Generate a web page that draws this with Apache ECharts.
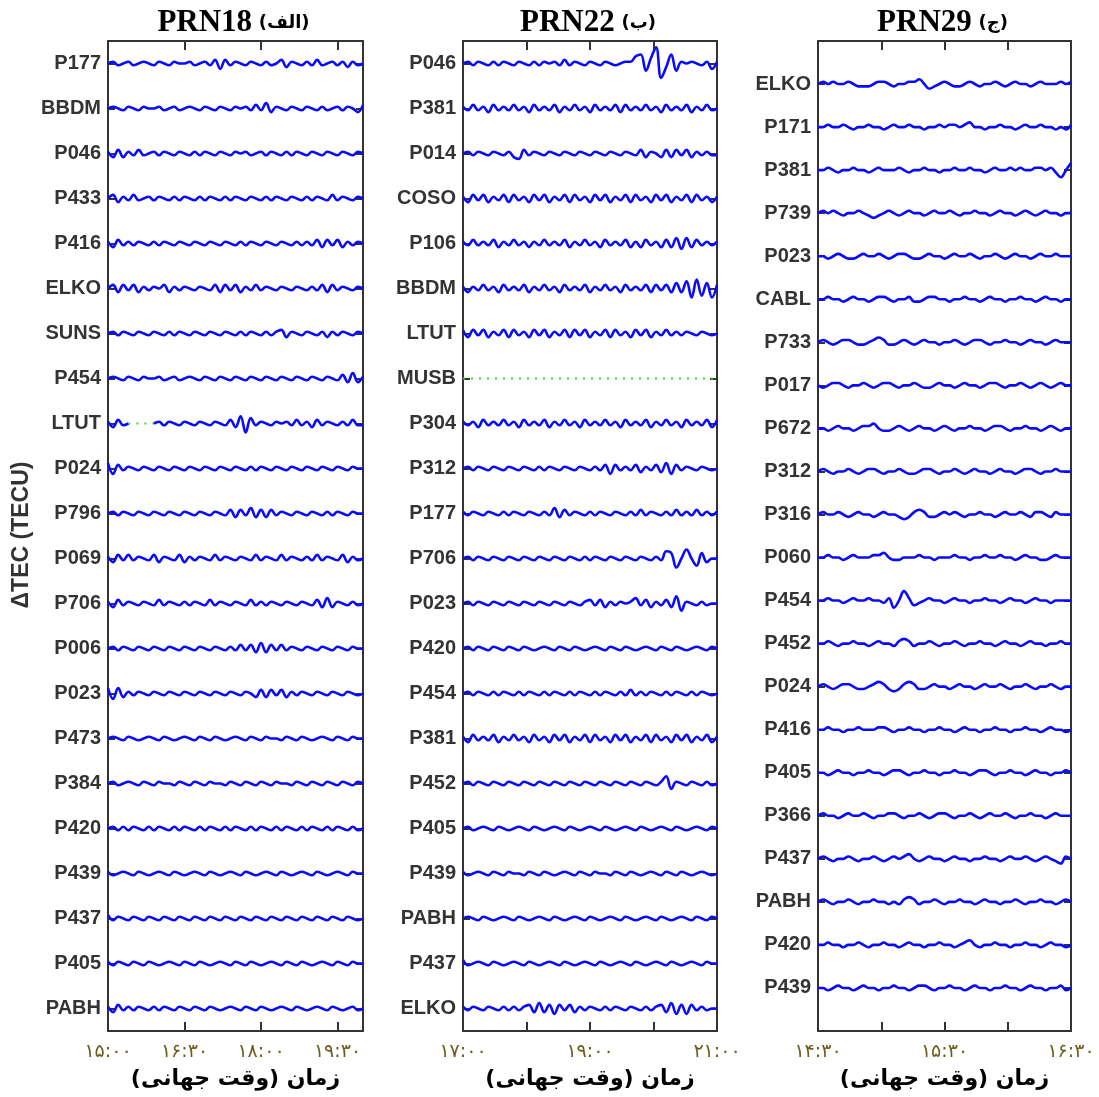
<!DOCTYPE html>
<html>
<head>
<meta charset="utf-8">
<script src="https://cdn.jsdelivr.net/npm/echarts@6/dist/echarts.min.js"></script>
<style>html,body{margin:0;padding:0;background:#fff}#c{width:1099px;height:1097px}</style>
</head>
<body>
<div id="c"></div>
<script>
// ---------- DATA ----------
const P1_TITLE = 'PRN18', P1_TAG = '(الف)';
const P2_TITLE = 'PRN22', P2_TAG = '(ب)';
const P3_TITLE = 'PRN29', P3_TAG = '(ج)';
const X_NAME = 'زمان (وقت جهانی)';
const Y_NAME = 'ΔTEC (TECU)';

const P1_RANGE = [15, 20];
const P2_RANGE = [17, 21];
const P3_RANGE = [14.5, 16.5];

const P1_TICKS = [16.5, 18, 19.5];
const P1_LABEL_AT = [15, 16.5, 18, 19.5];
const P1_LABELS = ['۱۵:۰۰', '۱۶:۳۰', '۱۸:۰۰', '۱۹:۳۰'];
const P2_TICKS = [18, 19, 20];
const P2_LABEL_AT = [17, 19, 21];
const P2_LABELS = ['۱۷:۰۰', '۱۹:۰۰', '۲۱:۰۰'];
const P3_TICKS = [15, 15.5, 16];
const P3_LABEL_AT = [14.5, 15.5, 16.5];
const P3_LABELS = ['۱۴:۳۰', '۱۵:۳۰', '۱۶:۳۰'];

const P1_STATIONS = ['P177','BBDM','P046','P433','P416','ELKO','SUNS','P454','LTUT','P024','P796','P069','P706','P006','P023','P473','P384','P420','P439','P437','P405','PABH'];
const P2_STATIONS = ['P046','P381','P014','COSO','P106','BBDM','LTUT','MUSB','P304','P312','P177','P706','P023','P420','P454','P381','P452','P405','P439','PABH','P437','ELKO'];
const P3_STATIONS = ['ELKO','P171','P381','P739','P023','CABL','P733','P017','P672','P312','P316','P060','P454','P452','P024','P416','P405','P366','P437','PABH','P420','P439'];

// ΔTEC samples (relative units), evenly spaced over each panel's time range
const P1_VALUES = [
 [0,1,-1,0,1,-1,0,1,0,-1,1,0,-1,1,0,0,1,-1,0,1,-1,2,-3,2,-1,1,0,-1,1,0,-1,1,-1,0,2,-2,1,0,-1,1,-1,2,-1,0,1,-1,1,-2,1,-1,0],
 [0,1,0,-1,1,0,-1,1,0,0,1,-1,0,1,-1,0,1,0,-1,1,0,-1,1,0,-1,1,0,1,-1,2,-1,3,-2,1,0,-1,1,0,-1,1,0,-1,1,-1,0,1,-1,1,0,-2,2],
 [1,-2,2,-2,1,-1,2,-1,0,1,-1,1,0,-1,1,0,-1,1,-1,1,0,-1,1,0,-1,1,0,1,-1,0,1,-1,1,0,-1,1,-1,1,0,-1,1,0,-1,1,0,-1,1,0,-1,1,0],
 [0,2,-2,1,-1,2,-1,0,1,-1,1,0,-1,1,-1,1,0,-1,1,-1,1,0,-1,1,-1,1,0,-1,1,0,-1,1,-1,1,0,-1,1,0,-1,1,-1,1,0,-1,2,-1,1,0,-1,1,0],
 [1,-2,2,-1,1,-1,1,0,-1,1,-1,1,0,-1,1,0,-1,1,0,-1,1,0,-1,1,0,-1,1,-1,1,0,-1,1,0,-1,1,0,-1,1,-1,1,-1,2,-2,2,-1,2,-2,1,-1,1,0],
 [0,2,-2,2,-1,2,-2,1,-1,1,0,2,-2,1,-1,1,0,-1,1,0,-1,2,-2,2,-1,2,-2,1,-1,2,-1,1,0,-1,1,0,-1,1,0,-1,1,-1,2,-2,2,-1,1,0,-1,1,0],
 [0,1,-1,1,0,-1,1,0,-1,1,0,-1,1,-1,1,0,-1,1,0,-1,1,0,-1,1,0,-1,1,-1,1,0,-1,1,-1,1,2,-2,1,0,-1,1,0,-1,1,-2,1,-1,1,0,-1,1,0],
 [0,1,0,-1,1,0,-1,1,0,0,1,-1,0,1,-1,0,1,0,-1,1,0,-1,1,0,-1,1,0,-1,1,0,-1,1,0,-1,1,0,-1,1,0,-1,1,0,-1,1,0,-1,2,-2,3,-2,1],
 [1,-2,2,-1,0,null,null,null,null,0,1,-1,1,0,-1,1,0,-1,1,0,-1,1,0,-1,2,-2,4,-5,3,-1,1,0,-1,1,0,1,-1,2,-1,1,-2,2,-1,1,0,-1,1,-1,2,-1,-1],
 [3,-3,2,-1,1,0,-1,1,0,-1,1,0,-1,1,0,-1,1,0,-1,1,0,-1,1,0,-1,1,0,-1,1,-1,1,0,-1,1,0,-1,1,0,-1,1,0,-1,1,0,-1,1,0,-1,1,0,0],
 [0,1,-1,1,0,-1,1,0,-1,1,0,-1,1,0,-1,1,0,-1,1,0,-1,1,0,-1,2,-2,2,-1,3,-2,2,-2,2,-1,1,0,-1,1,0,-1,1,0,-1,1,-1,1,0,-1,1,0,0],
 [1,-2,2,-1,2,-1,1,0,-1,2,-2,1,0,-1,2,-2,1,-1,1,0,-1,2,-1,1,0,-1,1,0,-1,2,-1,1,0,-1,2,-1,1,0,-1,1,-1,2,-1,1,0,-1,2,-2,1,-1,0],
 [1,-2,2,-1,1,0,-1,1,0,-1,2,-1,1,0,-1,1,-1,1,0,-1,2,-1,1,0,-1,1,0,-1,2,-1,1,-1,1,0,-1,1,0,-1,1,0,-1,2,-2,3,-2,1,0,-1,1,-1,0],
 [0,1,-1,1,0,-1,1,0,-1,1,0,-1,1,0,-1,1,0,-1,1,0,-1,1,0,-1,1,-1,2,-1,2,-2,3,-2,2,-1,2,-1,1,0,-1,1,0,-1,1,0,-1,1,0,-1,1,0,0],
 [3,-3,3,-2,1,-1,1,0,-1,1,0,-1,1,0,-1,1,0,-1,1,0,-1,1,0,-1,1,0,-1,1,0,-2,2,-2,2,-1,2,-2,1,-1,1,0,-1,1,0,-1,1,0,-1,1,0,-1,0],
 [0,1,0,-1,1,0,-1,0,1,0,-1,1,0,-1,0,1,0,-1,1,0,-1,1,0,-1,0,1,0,-1,1,0,-1,1,0,0,-1,1,0,-1,1,0,-1,0,1,0,-1,1,0,-1,1,0,0],
 [0,1,-1,0,1,0,-1,1,0,-1,1,0,0,-1,1,0,-1,1,0,-1,1,0,0,-1,1,0,-1,1,0,-1,1,0,-1,1,0,0,-1,1,0,-1,1,0,-1,1,0,-1,1,0,-1,1,0],
 [0,1,-1,1,-1,1,0,-1,1,-1,1,0,-1,1,-1,1,0,-1,1,-1,1,0,-1,1,-1,1,0,-1,1,-1,1,0,-1,1,-1,1,0,-1,1,-1,1,0,-1,1,-1,1,0,-1,1,-1,0],
 [1,-1,0,1,0,-1,1,0,-1,0,1,0,-1,1,0,-1,0,1,0,-1,1,0,-1,0,1,0,-1,1,0,-1,0,1,0,-1,1,0,-1,0,1,0,-1,1,0,-1,0,1,0,-1,1,0,0],
 [2,-1,1,0,-1,1,0,-1,1,0,-1,1,0,-1,1,0,-1,1,0,-1,1,0,-1,1,0,-1,1,0,-1,1,0,-1,1,0,-1,1,0,-1,1,0,-1,1,0,-1,1,0,-1,1,0,-1,0],
 [1,-1,1,0,-1,1,0,-1,1,0,-1,0,1,0,-1,1,0,-1,1,0,-1,0,1,0,-1,1,0,-1,1,0,-1,0,1,0,-1,1,0,-1,1,0,-1,0,1,0,-1,1,0,-1,1,0,0],
 [1,-2,2,-1,1,-1,1,0,-1,1,-1,1,0,-1,1,0,-1,1,0,-1,1,0,-1,0,1,0,-1,1,0,-1,1,0,-1,0,1,0,-1,1,0,-1,0,1,0,-1,1,0,-1,0,1,-1,0]
];

const P2_VALUES = [
 [0,1,-1,1,0,-1,1,-1,1,0,-1,1,0,-1,1,-1,1,0,1,-1,2,-1,1,0,-1,1,0,-1,1,0,-1,0,1,1,4,5,-4,3,9,-8,-2,5,-4,1,0,1,0,-1,1,-3,1],
 [1,-1,2,-1,1,-2,2,-1,1,-1,2,-1,1,-2,2,-1,1,-1,2,-2,1,-1,2,-1,1,-2,2,-1,1,-1,2,-2,2,-1,1,-1,2,-1,1,-2,2,-1,1,-1,2,-2,1,-1,2,-1,0],
 [0,1,-1,1,0,-1,1,0,-1,1,-2,-3,2,-1,1,0,-1,1,0,-1,1,0,-1,1,0,-1,1,0,-1,1,0,-1,1,0,-1,2,-2,1,0,-2,2,-2,2,-1,2,-2,1,-1,1,-1,-1],
 [1,-2,2,-1,2,-2,1,-1,2,-2,2,-1,1,-2,2,-1,2,-2,1,-1,2,-2,2,-1,1,-2,2,-1,2,-2,1,-1,2,-2,2,-1,1,-2,2,-1,2,-2,1,-1,2,-2,2,-1,1,-2,1],
 [1,-1,2,-1,1,-1,2,-2,1,-1,2,-1,1,-2,1,-1,2,-1,1,-1,2,-2,1,-1,2,-1,1,-2,2,-1,1,-1,2,-2,1,-2,2,-1,1,-2,2,-2,3,-3,3,-2,2,-1,1,-1,1],
 [1,-2,1,-1,2,-1,1,-2,2,-1,1,-1,2,-2,1,-1,2,-1,1,-2,2,-1,1,-1,2,-2,1,-1,2,-1,1,-2,2,-1,1,-1,2,-2,2,-1,2,-2,3,-2,4,-5,5,-4,3,-5,2],
 [2,-2,2,-1,2,-2,1,-1,2,-2,2,-1,1,-2,2,-1,2,-2,1,-1,2,-2,2,-1,2,-2,1,-1,2,-2,2,-1,1,-2,2,-1,2,-2,1,-1,2,-1,1,-1,1,0,-1,1,0,-1,0],
 [],
 [1,-1,1,-2,2,-1,1,-1,2,-1,1,-2,2,-1,1,-1,2,-2,1,-1,2,-1,1,-2,2,-1,1,-1,2,-1,1,-2,2,-1,1,-1,2,-2,1,-1,2,-1,1,-2,2,-1,1,-1,2,-2,2],
 [0,1,-1,1,0,-1,1,0,-1,1,0,-1,1,0,-1,1,-1,1,0,-1,1,0,-1,1,0,-1,1,-1,2,-3,2,-1,1,-1,2,-2,1,-1,2,-2,3,-3,2,-1,1,0,-1,1,0,-1,0],
 [1,-1,1,0,-1,1,0,-1,1,-1,1,0,-1,1,0,-1,1,-1,3,-2,2,-1,1,0,-1,1,-1,1,0,-1,1,0,-1,1,-1,2,-1,1,0,-1,1,-1,2,-1,1,-1,2,-1,1,-1,1],
 [0,1,-1,1,0,-1,1,0,-1,1,0,-1,1,0,-1,1,0,-1,1,0,-1,1,0,-1,1,-1,1,0,-1,1,0,-1,1,0,-1,1,0,-1,1,-1,4,3,-5,0,5,0,-4,3,-2,0,0],
 [0,1,-1,1,0,-1,1,0,-1,1,0,-1,1,0,-1,1,0,-1,1,0,-1,1,0,-1,1,2,-1,2,-2,1,-1,1,0,1,3,-1,2,-2,1,-1,2,-2,4,-4,1,0,-1,1,-1,0,0],
 [0,1,-1,1,0,-1,1,0,-1,1,0,-1,1,0,-1,0,1,0,-1,1,0,-1,1,0,-1,0,1,0,-1,1,0,-1,1,0,-1,0,1,0,-1,1,0,-1,1,0,-1,0,1,0,-1,1,0],
 [0,1,-1,1,0,-1,1,-1,1,0,-1,1,-1,1,0,-1,1,-1,1,0,-1,1,-1,1,0,-1,1,-1,1,0,-1,1,-1,2,-1,1,-1,1,0,-1,1,-1,1,0,-1,1,-1,1,0,-1,0],
 [1,-2,2,-1,1,-1,2,-2,1,-1,2,-1,1,-2,2,-1,1,-2,2,-1,2,-2,1,-1,2,-2,2,-1,1,-2,2,-1,2,-2,1,-1,2,-2,2,-1,1,-2,2,-1,2,-2,1,-1,2,-2,1],
 [0,1,-1,1,0,-1,1,0,-1,1,0,-1,1,0,-1,1,0,-1,1,0,-1,1,0,-1,1,0,-1,1,0,-1,1,0,-1,1,0,-1,1,0,-1,1,4,-3,1,0,-1,1,0,-1,1,-1,0],
 [0,1,-1,0,1,0,-1,1,0,-1,0,1,0,-1,1,0,-1,0,1,0,-1,1,0,-1,0,1,0,-1,1,0,-1,0,1,0,-1,1,0,-1,0,1,0,-1,1,0,-1,0,1,0,-1,1,0],
 [1,-1,0,1,0,-1,1,0,-1,1,0,0,-1,1,0,-1,1,0,-1,0,1,0,-1,1,0,-1,1,0,0,-1,1,0,-1,1,0,-1,0,1,0,-1,1,0,-1,1,0,-1,0,1,0,-1,0],
 [0,1,0,-1,1,0,-1,0,1,0,-1,1,0,-1,0,1,0,-1,1,0,-1,0,1,0,-1,1,0,-1,0,1,0,-1,1,0,-1,0,1,0,-1,1,0,-1,0,1,0,-1,1,0,-1,1,0],
 [2,-1,0,1,0,-1,1,0,-1,0,1,0,-1,1,0,-1,0,1,0,-1,1,0,-1,0,1,0,-1,1,0,-1,0,1,0,-1,1,0,-1,0,1,0,-1,1,0,-1,0,1,0,-1,1,0,0],
 [1,-1,1,0,-1,1,0,-1,1,-1,1,-1,1,2,-2,3,-2,2,-3,2,-1,2,-2,1,-1,1,0,-1,1,-1,1,0,-1,1,0,-1,1,-1,1,2,-2,3,-3,2,-3,2,-1,1,-1,0,0]
];

const P3_VALUES = [
 [0,1,0,1,0,0,1,0,-1,-1,-1,0,1,1,0,-1,0,0,1,1,2,0,-2,-1,0,1,0,-1,-1,0,1,0,-1,0,0,1,0,-1,0,1,0,0,-1,0,1,0,0,0,1,0,1],
 [0,0,1,0,0,1,0,-1,0,0,1,0,0,-1,0,1,0,0,1,0,0,-1,0,0,1,0,1,1,0,1,2,0,0,-1,0,0,1,0,0,-1,0,1,0,0,1,0,0,-1,0,-1,1],
 [0,0,1,0,-1,0,0,1,0,0,-1,0,1,0,0,0,1,0,-1,0,0,1,0,0,-1,0,0,1,0,0,1,0,0,-1,0,1,0,0,1,0,1,0,0,1,1,0,1,-1,-3,0,3],
 [0,1,0,1,0,-1,0,0,1,0,-1,-2,-1,0,1,0,-1,0,1,0,0,-1,0,1,0,0,1,0,-1,0,0,1,0,0,-1,0,1,0,0,-1,0,1,0,-1,0,1,0,0,-1,0,0],
 [0,0,-1,0,1,0,-1,-1,0,1,0,0,1,0,-1,0,1,1,0,-1,-1,0,1,0,0,-1,0,1,0,0,1,0,-1,0,0,1,0,-1,0,1,0,0,-1,0,1,0,0,1,0,0,0],
 [0,0,1,0,0,-1,0,1,0,0,-1,0,1,1,0,-1,0,0,1,-1,-1,0,1,1,0,0,-1,0,0,1,0,0,-1,0,1,0,0,-1,0,0,1,0,0,-1,0,1,0,0,-1,0,0],
 [0,1,0,-1,0,1,1,0,-1,-1,0,1,2,1,-1,-1,0,1,0,-1,0,1,0,0,-1,0,0,1,0,-1,0,1,1,0,-1,0,0,1,0,0,-1,0,1,0,0,-1,0,1,0,0,0],
 [0,-1,0,1,1,0,-1,0,0,1,0,-1,0,1,1,0,-1,0,0,1,0,-1,-1,0,1,0,0,-1,0,1,0,0,-1,0,1,1,0,-1,0,0,1,0,-1,0,1,0,-1,0,1,0,0],
 [0,0,-1,0,1,0,0,-1,0,1,1,2,0,-1,-1,0,1,0,-1,0,1,0,0,-1,0,1,0,-1,0,0,1,0,0,-1,0,1,1,0,-1,0,0,1,0,0,-1,0,1,0,-1,0,0],
 [0,1,0,-1,0,0,1,0,-1,0,1,1,0,-1,0,0,1,0,-1,-1,0,1,1,0,-1,0,0,1,0,-1,0,1,0,0,-1,0,1,0,0,-1,0,1,1,0,-1,0,0,1,0,0,0],
 [0,1,0,0,1,0,-1,0,1,0,0,-1,0,1,0,0,-1,-2,-1,1,2,1,-1,-1,0,1,0,1,0,-1,0,0,1,0,0,-1,0,1,0,0,1,0,-1,1,1,0,-1,1,0,0,0],
 [0,0,1,0,0,-1,0,1,0,0,0,1,1,2,0,-1,-1,0,0,0,1,0,0,-1,0,0,0,1,0,0,-1,0,0,1,0,0,1,0,0,-1,0,1,0,0,-1,-1,0,1,0,0,0],
 [0,0,1,0,0,-1,0,1,0,0,1,0,0,-1,1,-3,0,4,1,-2,-1,0,1,0,0,-1,0,1,0,0,-1,0,0,1,0,0,-1,0,1,0,0,-1,0,1,0,0,-1,0,0,0,0],
 [0,0,1,0,-1,0,0,1,0,0,-1,0,1,0,0,-1,1,2,1,-1,0,0,1,0,-1,0,0,1,0,-1,0,0,1,0,0,-1,0,1,0,0,-1,0,1,0,0,-1,0,0,1,0,0],
 [0,1,0,-1,0,1,1,0,-1,-1,0,1,2,1,-1,-2,-1,1,2,1,-1,-1,0,1,0,0,-1,0,1,0,0,-1,0,1,0,0,1,0,-1,0,0,1,0,-1,0,0,1,0,-1,0,0],
 [0,0,1,0,0,-1,0,0,1,0,0,0,1,1,0,-1,0,0,1,0,0,-1,0,0,1,0,0,-1,0,1,0,0,-1,0,0,1,0,0,-1,0,0,1,0,0,-1,0,1,0,0,-1,0],
 [0,0,-1,0,1,0,0,-1,0,0,1,0,0,-1,0,1,1,0,-1,0,0,1,0,0,-1,0,0,1,0,0,-1,0,1,1,0,-1,0,0,1,0,0,-1,0,1,0,0,-1,0,0,1,0],
 [0,1,0,0,-1,0,1,0,0,1,0,-1,0,0,1,1,0,-1,0,0,1,0,-1,0,1,1,0,-1,0,0,1,0,-1,0,1,0,0,1,0,-1,0,0,1,0,0,-1,0,1,0,0,0],
 [0,1,0,-1,0,0,1,0,-1,0,0,1,0,-1,0,1,0,1,2,0,-1,0,1,0,0,-1,0,1,0,0,-1,0,0,1,0,0,-1,0,1,0,0,1,0,-1,0,1,0,-1,-2,1,0],
 [0,1,0,-1,0,0,1,0,-1,0,0,1,0,0,-1,0,-1,1,2,1,-1,0,0,1,0,-1,0,0,1,0,0,-1,0,1,0,0,-1,0,0,1,0,-1,0,0,1,0,0,-1,0,1,0],
 [0,0,1,0,0,-1,0,0,1,0,-1,0,0,1,0,0,-1,0,1,0,0,-1,0,0,1,0,0,-1,0,1,2,0,-1,0,0,1,0,0,-1,0,0,1,0,0,-1,0,1,0,0,-1,0],
 [0,0,-1,0,1,0,0,-1,0,1,0,0,-1,0,0,1,0,0,-1,0,1,1,0,-1,0,0,1,0,0,-1,0,1,0,0,-1,0,0,1,0,0,-1,0,1,0,0,-1,0,0,1,-1,0]
];

// ---------- CHART ----------
const chart = echarts.init(document.getElementById('c'));
const AXIS_COLOR = '#333';
const STATION_FONT = 'Liberation Sans, Arial, sans-serif';
const PERSIAN_FONT = 'DejaVu Sans, sans-serif';

const panels = [
  {left:108, width:255, range:P1_RANGE, ticks:P1_TICKS, labelAt:P1_LABEL_AT, labels:P1_LABELS, stations:P1_STATIONS, values:P1_VALUES, yPad:0.5, scale:0.04, title:P1_TITLE, tag:P1_TAG},
  {left:463, width:254, range:P2_RANGE, ticks:P2_TICKS, labelAt:P2_LABEL_AT, labels:P2_LABELS, stations:P2_STATIONS, values:P2_VALUES, yPad:0.5, scale:0.04, title:P2_TITLE, tag:P2_TAG},
  {left:818, width:253, range:P3_RANGE, ticks:P3_TICKS, labelAt:P3_LABEL_AT, labels:P3_LABELS, stations:P3_STATIONS, values:P3_VALUES, yPad:1, scale:0.055, title:P3_TITLE, tag:P3_TAG}
];

const grids = [], xAxes = [], yAxes = [], series = [], graphics = [];
panels.forEach((p, gi) => {
  const n = p.stations.length;
  grids.push({left:p.left, top:41, width:p.width, height:990, outerBoundsMode:'none', containLabel:false});
  const lineStyle = {color:AXIS_COLOR, width:2};
  xAxes.push({
    type:'value', gridIndex:gi, min:p.range[0], max:p.range[1], position:'bottom',
    axisLine:{show:true, onZero:false, lineStyle},
    axisTick:{show:true, inside:true, length:9, customValues:p.ticks, lineStyle},
    axisLabel:{show:true, customValues:p.labelAt, margin:12, color:'#6b5e1e', fontFamily:PERSIAN_FONT, fontSize:19,
      formatter:(v)=>{ const k = p.labelAt.findIndex(a=>Math.abs(a-v)<1e-6); return k>=0 ? p.labels[k] : ''; }},
    splitLine:{show:false},
    name:X_NAME + '\u200F', nameLocation:'middle', nameGap:37,
    nameTextStyle:{color:'#000', fontFamily:PERSIAN_FONT, fontWeight:'bold', fontSize:22}
  });
  xAxes.push({
    type:'value', gridIndex:gi, min:p.range[0], max:p.range[1], position:'top',
    axisLine:{show:true, onZero:false, lineStyle},
    axisTick:{show:true, inside:true, length:9, customValues:p.ticks, lineStyle},
    axisLabel:{show:false}, splitLine:{show:false}
  });
  const yVals = p.stations.map((s,k)=>n-1-k);
  yAxes.push({
    type:'value', gridIndex:gi, min:-p.yPad, max:n-1+p.yPad, position:'left',
    axisLine:{show:true, onZero:false, lineStyle},
    axisTick:{show:true, inside:true, length:7, customValues:yVals, lineStyle},
    axisLabel:{show:true, customValues:yVals, margin:7, color:'#333', fontFamily:STATION_FONT, fontWeight:'bold', fontSize:20,
      formatter:(v)=>p.stations[n-1-Math.round(v)]},
    splitLine:{show:false}
  });
  yAxes.push({
    type:'value', gridIndex:gi, min:-p.yPad, max:n-1+p.yPad, position:'right',
    axisLine:{show:true, onZero:false, lineStyle},
    axisTick:{show:true, inside:true, length:7, customValues:yVals, lineStyle},
    axisLabel:{show:false}, splitLine:{show:false}
  });
  const xi = gi*2, yi = gi*2;
  p.stations.forEach((name, k) => {
    const off = n-1-k;
    const vals = p.values[k];
    const [t0, t1] = p.range;
    if (!vals.length) {
      series.push({type:'line', xAxisIndex:xi, yAxisIndex:yi, data:[[t0,off],[t1,off]], showSymbol:false, silent:true,
        lineStyle:{color:'#33dd33', width:2, type:[2,6]}, z:2});
      return;
    }
    const step = (t1-t0)/(vals.length-1);
    const data = vals.map((v,i)=>[t0+i*step, v===null ? '-' : off + v*p.scale]);
    if (vals.some(v=>v===null)) {
      const g = vals.map((v,i)=>{
        const near = v===null || vals[i-1]===null || vals[i+1]===null;
        return [t0+i*step, near ? off : '-'];
      });
      series.push({type:'line', xAxisIndex:xi, yAxisIndex:yi, data:g, showSymbol:false, silent:true,
        lineStyle:{color:'#33dd33', width:2, type:[2,6]}, z:2});
    }
    series.push({type:'line', xAxisIndex:xi, yAxisIndex:yi, data, showSymbol:false, silent:true, smooth:0.4,
      connectNulls:false, lineStyle:{color:'#0a0aff', width:2.6}, z:3});
  });
  graphics.push({type:'text', x:p.left + p.width/2 - 2, y:23, style:{
    text:'{a|' + p.title + '}  {b|' + p.tag + '}', align:'center', verticalAlign:'middle',
    rich:{a:{fontFamily:'Liberation Serif, Times New Roman, serif', fontWeight:'bold', fontSize:31, fill:'#000'},
          b:{fontFamily:PERSIAN_FONT, fontWeight:'bold', fontSize:18, fill:'#000'}}
  }});
});
graphics.push({type:'text', x:22, y:535, rotation:Math.PI/2, style:{
  text:Y_NAME, align:'center', verticalAlign:'middle', fontFamily:STATION_FONT, fontWeight:'bold', fontSize:23, fill:'#333'}});

chart.setOption({
  animation:false,
  backgroundColor:'#fff',
  grid:grids, xAxis:xAxes, yAxis:yAxes, series, graphic:graphics
});
</script>
</body>
</html>
